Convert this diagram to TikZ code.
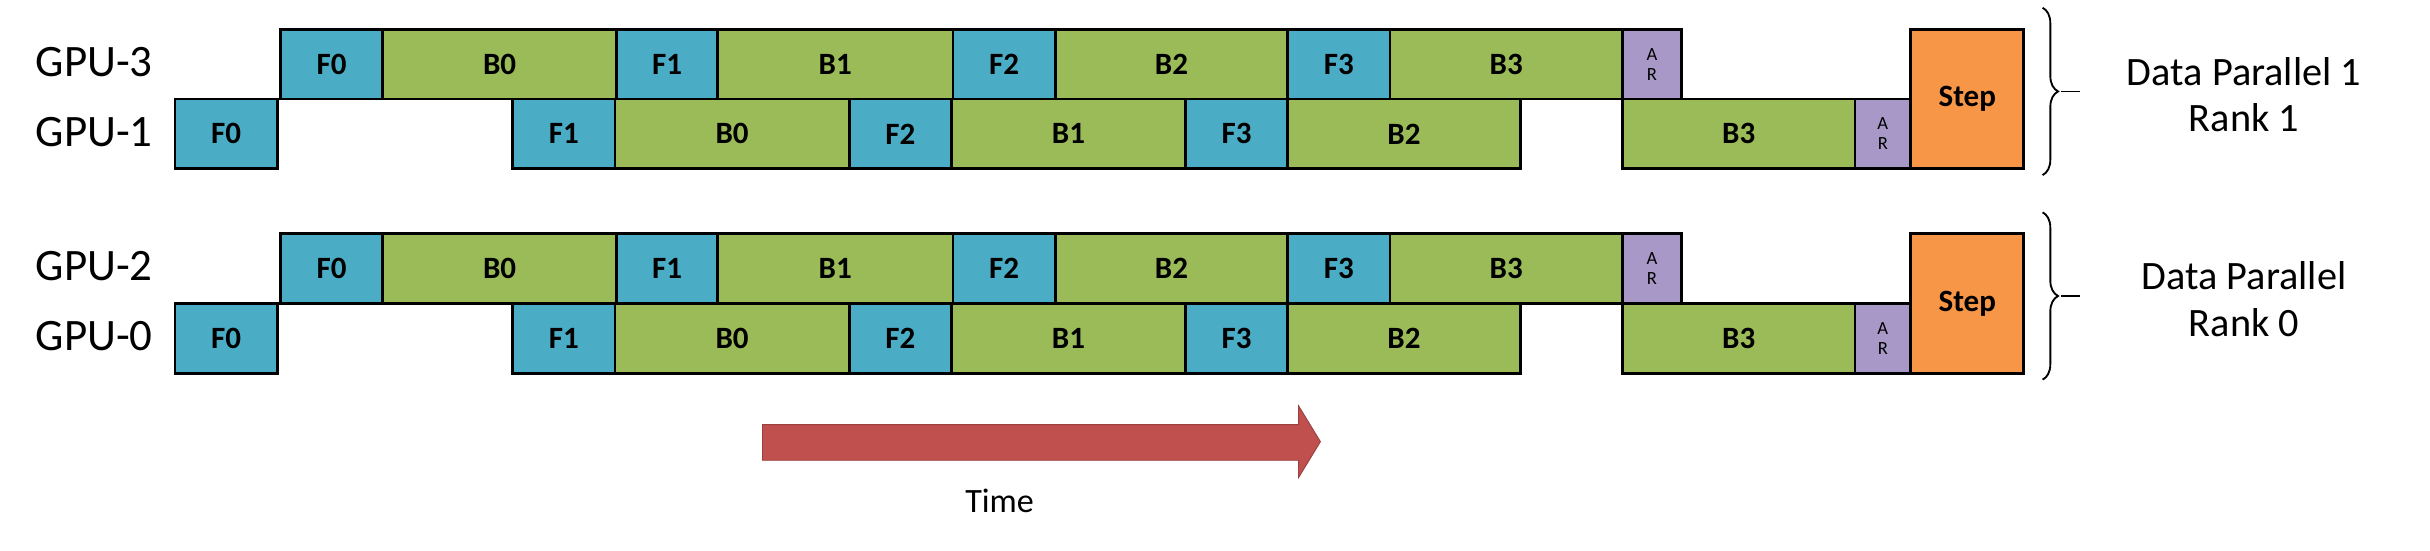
\documentclass[tikz,border=0pt]{standalone}
\usepackage{fontspec}
\setmainfont{Carlito}
\usetikzlibrary{decorations.pathreplacing}
\definecolor{cf}{HTML}{4BACC6}
\definecolor{cb}{HTML}{9BBB59}
\definecolor{car}{HTML}{A898C8}
\definecolor{cst}{HTML}{F79646}
\definecolor{carr}{HTML}{C0504D}
\begin{document}
\begin{tikzpicture}[x=1pt,y=-1pt,
  box/.style={draw=black,line width=1.8pt,inner sep=0pt,anchor=north west,minimum height=45pt,
    font=\fontsize{20}{20}\selectfont\bfseries},
  F/.style={box,fill=cf},
  B/.style={box,fill=cb},
  AR/.style={box,fill=car,font=\fontsize{12}{13}\selectfont,align=center},
  ST/.style={box,fill=cst,minimum height=90pt},
  gpu/.style={font=\fontsize{29}{29}\selectfont,anchor=east},
  dp/.style={font=\fontsize{26}{30}\selectfont,align=center}]
\useasboundingbox (0,0) rectangle (1568,355.5);
\foreach \o/\ga/\gb/\rk/\lab in {0/3/1/1/{Data Parallel 1\\Rank 1},132/2/0/0/{Data Parallel\\Rank 0}}{
  \node[gpu] (lbl\ga) at (102,40+\o) {GPU-\ga};
  \node[gpu] (lbl\gb) at (102,85+\o) {GPU-\gb};
  % upper GPU
  \node[F,minimum width=66pt] (a\ga f0) at (180,18+\o) {F0};
  \node[B,minimum width=151pt] (a\ga b0) at (246,18+\o) {B0};
  \node[F,minimum width=65pt] (a\ga f1) at (397,18+\o) {F1};
  \node[B,minimum width=152pt] (a\ga b1) at (462,18+\o) {B1};
  \node[F,minimum width=66pt] (a\ga f2) at (614,18+\o) {F2};
  \node[B,minimum width=150pt] (a\ga b2) at (680,18+\o) {B2};
  \node[F,minimum width=66pt] (a\ga f3) at (830,18+\o) {F3};
  \node[B,minimum width=150pt] (a\ga b3) at (896,18+\o) {B3};
  \node[AR,minimum width=38pt] (a\ga ar) at (1046,18+\o) {A\\R};
  % lower GPU
  \node[F,minimum width=66pt] (a\gb f0) at (112,63+\o) {F0};
  \node[F,minimum width=66pt] (a\gb f1) at (330,63+\o) {F1};
  \node[B,minimum width=151pt] (a\gb b0) at (396,63+\o) {B0};
  \node[F,minimum width=66pt] (a\gb f2) at (547,63+\o) {F2};
  \node[B,minimum width=151pt] (a\gb b1) at (613,63+\o) {B1};
  \node[F,minimum width=66pt] (a\gb f3) at (764,63+\o) {F3};
  \node[B,minimum width=150pt] (a\gb b2) at (830,63+\o) {B2};
  \node[B,minimum width=150pt] (a\gb b3) at (1046,63+\o) {B3};
  \node[AR,minimum width=36pt] (a\gb ar) at (1196,63+\o) {A\\R};
  \node[ST,minimum width=73pt] (st\rk) at (1232,18+\o) {Step};
  % brace
  \coordinate (bt\rk) at (1318,5+\o);
  \coordinate (bb\rk) at (1318,113+\o);
  \draw[line width=1.2pt,decorate,decoration={brace,amplitude=10pt}] (bt\rk) -- (bb\rk);
  \draw[line width=1.2pt] (1330,59+\o) -- (1342,59+\o);
  \node[dp] (dp\rk) at (1448,61+\o) {\lab};
}
\coordinate (t0) at (492,285);
\fill[carr,draw=carr!80!black,line width=0.6pt] (492,274) -- (838,274) -- (838,262) -- (852,285) -- (838,308) -- (838,297) -- (492,297) -- cycle;
\node[font=\fontsize{22}{22}\selectfont] (time) at (645,323) {Time};
\end{tikzpicture}
\end{document}
